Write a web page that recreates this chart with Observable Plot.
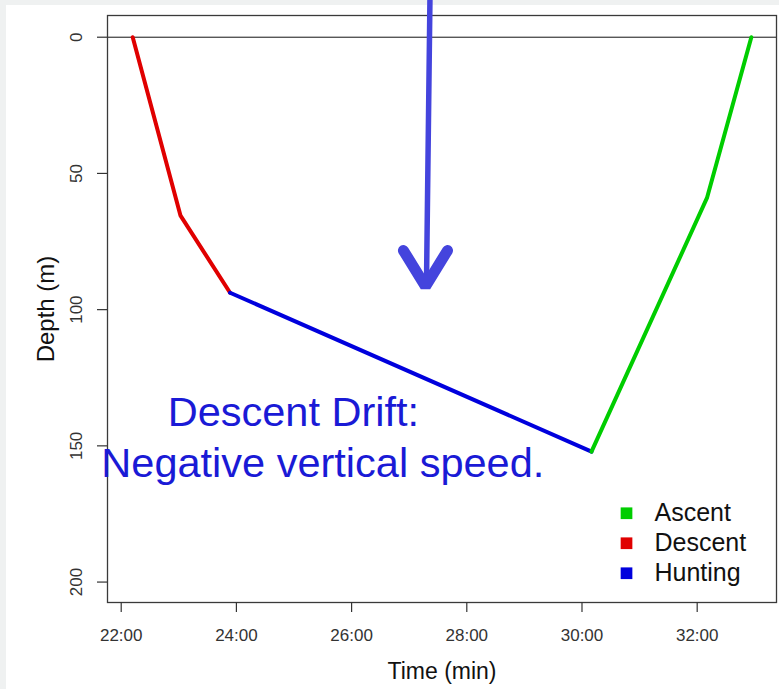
<!DOCTYPE html>
<html>
<head>
<meta charset="utf-8">
<script src="https://cdn.jsdelivr.net/npm/d3@7"></script>
<script src="https://cdn.jsdelivr.net/npm/@observablehq/plot@0.6"></script>
<style>
  html, body { margin: 0; padding: 0; background: #eff1f1; }
  #chart svg { display: block; background: #fff; box-shadow: inset 6px 5px 0 #eff1f1; }
</style>
</head>
<body>
<div id="chart"></div>
<script>
// Dive profile: time (minutes) vs depth (metres), split into phases
const phases = ["Ascent", "Descent", "Hunting"];
const phaseColors = ["#00cd00", "#e00000", "#0000dd"];

const descentTime = [22.2, 23.03, 23.89];
const descentDepth = [0, 65.5, 93.8];
const huntingTime = [23.89, 30.165];
const huntingDepth = [93.8, 152.1];
const ascentTime = [30.165, 32.17, 32.94];
const ascentDepth = [152.1, 59, 0];

// Axis ticks
const xTicks = [22, 24, 26, 28, 30, 32];
const yTicks = [0, 50, 100, 150, 200];

// Annotation: downward arrow and caption (in data units)
const arrowShaftTime = [27.36, 27.30];
const arrowShaftDepth = [-13.47, 90.4];
const arrowHeadTime = [26.90, 27.283, 27.665];
const arrowHeadDepth = [78.3, 91.5, 78.3];
const noteLines = ["Descent Drift:", "Negative vertical speed."];
const noteTime = [24.99, 25.50];
const noteDepth = [142.55, 161.27];

// Legend placement (data units)
const legendTime = 30.773;
const legendTextTime = 31.259;
const legendDepth0 = 174.74;
const legendStep = 11.01;

const toRows = (phase, t, d) => t.map((v, i) => ({phase, time: v, depth: d[i]}));
const profile = [
  ...toRows("Descent", descentTime, descentDepth),
  ...toRows("Hunting", huntingTime, huntingDepth),
  ...toRows("Ascent", ascentTime, ascentDepth)
];
const shaft = arrowShaftTime.map((t, i) => ({time: t, depth: arrowShaftDepth[i]}));
const head = arrowHeadTime.map((t, i) => ({time: t, depth: arrowHeadDepth[i]}));
const notes = noteLines.map((s, i) => ({text: s, time: noteTime[i], depth: noteDepth[i]}));
const legendRows = phases.map((p, i) => ({phase: p, depth: legendDepth0 + i * legendStep}));

const ink = "#333";

const chart = Plot.plot({
  width: 779,
  height: 689,
  marginLeft: 107,
  marginRight: 3,
  marginTop: 15,
  marginBottom: 87,
  style: {fontFamily: "'Liberation Sans', Arial, sans-serif", background: "#fff"},
  x: {domain: [21.762, 33.377], axis: null},
  y: {domain: [-7.97, 207.5], reverse: true, axis: null},
  color: {domain: phases, range: phaseColors},
  marks: [
    Plot.ruleY([0], {stroke: "#111", strokeWidth: 1}),
    Plot.frame({stroke: "#3a3a3a", strokeWidth: 1.3}),
    Plot.axisX(xTicks, {tickSize: 10, fill: "none", stroke: ink, strokeWidth: 1.2}),
    Plot.axisY(yTicks, {tickSize: 10, fill: "none", stroke: ink, strokeWidth: 1.2}),
    Plot.text(xTicks, {x: d => d, frameAnchor: "bottom", dy: 33, lineAnchor: "middle",
      textAnchor: "middle", text: d => `${d}:00`, fontSize: 17, fill: ink}),
    Plot.text(yTicks, {y: d => d, frameAnchor: "left", dx: -30.5, rotate: -90, lineAnchor: "middle",
      textAnchor: "middle", text: d => String(d), fontSize: 17, fill: ink}),
    Plot.text(["Time (min)"], {frameAnchor: "bottom", dy: 76, lineAnchor: "bottom",
      textAnchor: "middle", text: d => d, fontSize: 23, fill: "#111"}),
    Plot.text(["Depth (m)"], {frameAnchor: "left", dx: -54, rotate: -90, lineAnchor: "bottom",
      textAnchor: "middle", text: d => d, fontSize: 24, fill: "#111"}),
    Plot.line(profile, {x: "time", y: "depth", z: "phase", stroke: "phase", strokeWidth: 4,
      strokeLinecap: "round", strokeLinejoin: "round"}),
    Plot.text(notes, {x: "time", y: "depth", text: "text", lineAnchor: "bottom",
      fontSize: 41.5, fill: "#1a1ad6"}),
    Plot.line(shaft, {x: "time", y: "depth", stroke: "#4444dd", strokeWidth: 5.5, clip: false}),
    Plot.line(head, {x: "time", y: "depth", stroke: "#4444dd", strokeWidth: 11,
      strokeLinecap: "round", strokeLinejoin: "miter", clip: false}),
    Plot.dot(legendRows, {x: () => legendTime, y: "depth", fill: "phase", symbol: "square", r: 6.6}),
    Plot.text(legendRows, {x: () => legendTextTime, y: "depth", text: "phase", textAnchor: "start",
      lineAnchor: "middle", fontSize: 25, fill: "#111"})
  ]
});

document.getElementById("chart").append(chart);
</script>
</body>
</html>
